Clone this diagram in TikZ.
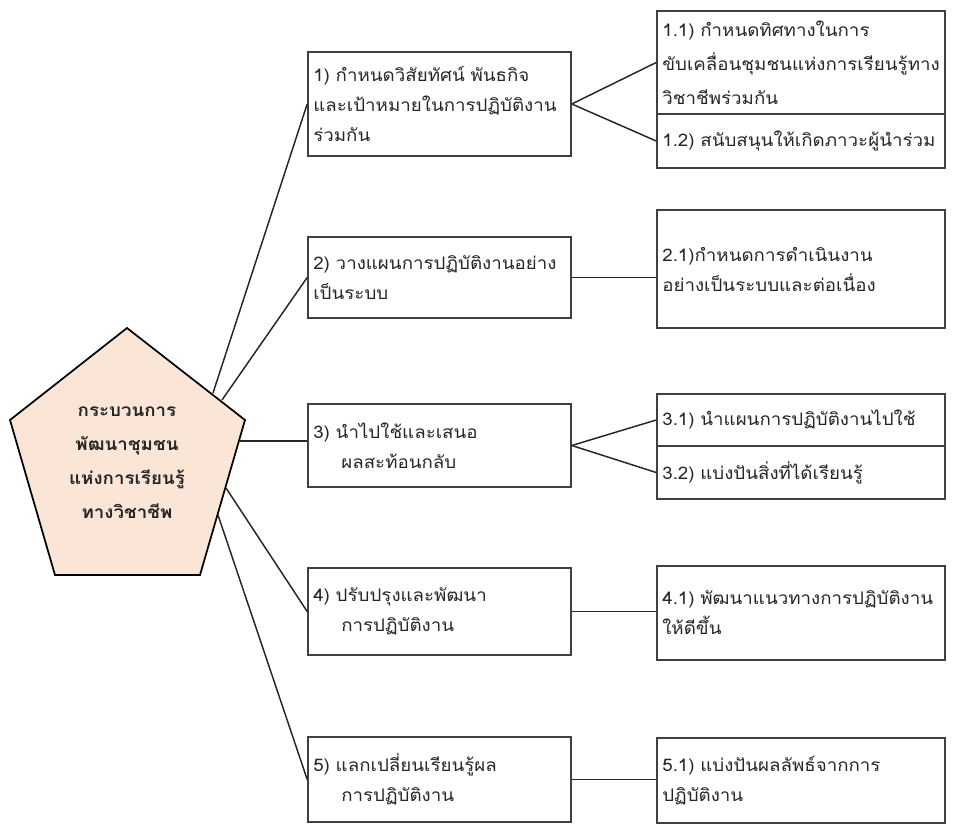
\documentclass[tikz,border=0pt]{standalone}
\usepackage{fontspec}
\newfontfamily\thaifont[Script=Thai,FakeStretch=1.08]{Loma}
\definecolor{peach}{HTML}{FBE5D6}
\begin{document}
\begin{tikzpicture}[x=0.75pt,y=-0.75pt,
  box/.style={draw=black!75,line width=1.2pt,inner xsep=4pt,inner ysep=0pt,align=left,text=black!85,
    font=\thaifont\fontsize{13}{22.5}\selectfont},
  mainbox/.style={box,text width=189.25pt,minimum height=#1},
  subbox/.style={box,text width=208pt,minimum height=#1},
  link/.style={line width=1.1pt,black!85}]
  \useasboundingbox (0,0) rectangle (953,832);

  \filldraw[fill=peach,line width=1.3pt] (127,328) -- (245,420) -- (200,575) -- (55,575) -- (10,420) -- cycle;
  \node[align=center,text=black!85,font=\thaifont\bfseries\fontsize{13}{25.5}\selectfont] (core) at (127,463)
    {กระบวนการ\\พัฒนาชุมชน\\แห่งการเรียนรู้\\ทางวิชาชีพ};
  \coordinate (c1) at (213,393);
  \coordinate (c2) at (222,400);
  \coordinate (c3) at (239,441);
  \coordinate (c4) at (226,488);
  \coordinate (c5) at (218,515);

  \node[mainbox=78pt]    (b1) at (439.5,104)   {1) กำหนดวิสัยทัศน์ พันธกิจ\\และเป้าหมายในการปฏิบัติงาน\\ร่วมกัน};
  \node[mainbox=60.75pt] (b2) at (439.5,277.5) {2) วางแผนการปฏิบัติงานอย่าง\\เป็นระบบ};
  \node[mainbox=62.25pt] (b3) at (439.5,445.5) {3) นำไปใช้และเสนอ\\\hspace*{21pt}ผลสะท้อนกลับ};
  \node[mainbox=65.25pt] (b4) at (439.5,611.5) {4) ปรับปรุงและพัฒนา\\\hspace*{21pt}การปฏิบัติงาน};
  \node[mainbox=63.75pt] (b5) at (439.5,779.5) {5) แลกเปลี่ยนเรียนรู้ผล\\\hspace*{21pt}การปฏิบัติงาน};

  \node[subbox=77.25pt,font=\thaifont\fontsize{13}{25.5}\selectfont] (b11) at (801,62.5)
    {1.1) กำหนดทิศทางในการ\\ขับเคลื่อนชุมชนแห่งการเรียนรู้ทาง\\วิชาชีพร่วมกัน};
  \node[subbox=40.5pt]  (b12) at (801,141)   {1.2) สนับสนุนให้เกิดภาวะผู้นำร่วม};
  \node[subbox=88.5pt]  (b21) at (801,269)   {2.1)กำหนดการดำเนินงาน\\อย่างเป็นระบบและต่อเนื่อง};
  \node[subbox=39pt]    (b31) at (801,420)   {3.1) นำแผนการปฏิบัติงานไปใช้};
  \node[subbox=39.75pt] (b32) at (801,472.5) {3.2) แบ่งปันสิ่งที่ได้เรียนรู้};
  \node[subbox=70.5pt]  (b41) at (801,613)   {4.1) พัฒนาแนวทางการปฏิบัติงาน\\ให้ดีขึ้น};
  \node[subbox=63.75pt] (b51) at (801,780.5) {5.1) แบ่งปันผลลัพธ์จากการ\\ปฏิบัติงาน};

  \path[link]
    (c1) edge (b1.west)
    (c2) edge (b2.west)
    (c3) edge (c3 -| b3.west)
    (c4) edge (b4.west)
    (c5) edge (b5.west);
  \path[link]
    (b1.east) edge (b11.west)
              edge (b12.west)
    (b2.east) edge (b2.east -| b21.west)
    (b3.east) edge (b31.west)
              edge (b32.west)
    (b4.east) edge (b4.east -| b41.west)
    (b5.east) edge (b5.east -| b51.west);
\end{tikzpicture}
\end{document}
